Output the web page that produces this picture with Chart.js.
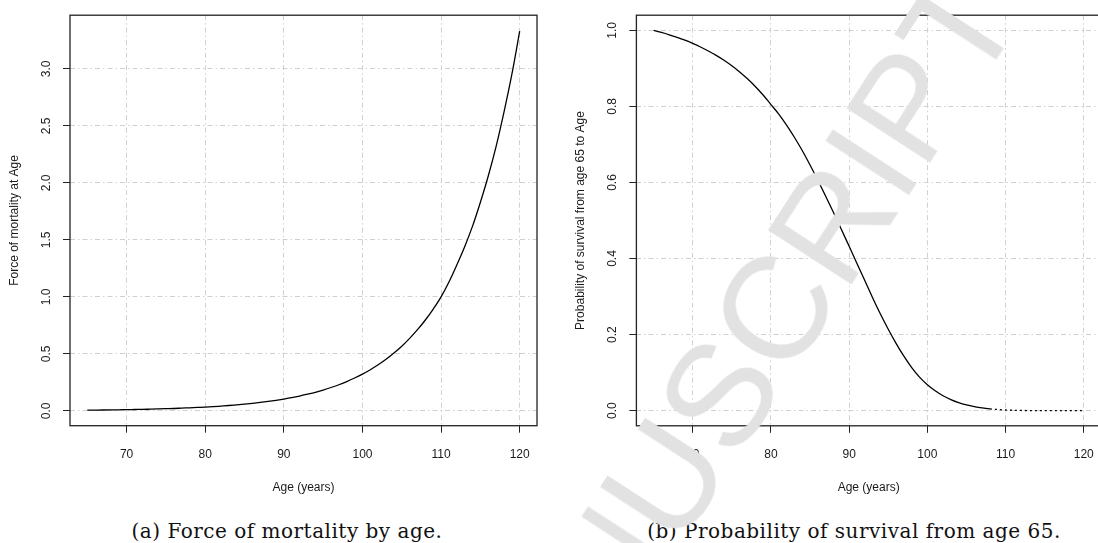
<!DOCTYPE html>
<html>
<head>
<meta charset="utf-8">
<script src="https://cdn.jsdelivr.net/npm/chart.js@4.4.1/dist/chart.umd.min.js"></script>
<style>
  html, body { margin:0; padding:0; background:#fff; }
  body { width:1098px; height:543px; overflow:hidden; position:relative; }
  canvas { position:absolute; top:0; }
  #c1 { left:0; }
  #c2 { left:549px; }
  .cap { position:absolute; top:519px; font-family:"DejaVu Serif", serif; font-size:20px; letter-spacing:0.5px; color:#111; white-space:nowrap; transform:translateX(-50%); line-height:24px; }
  #wm { position:absolute; left:722px; top:392px; font-family:"Liberation Sans", Arial, sans-serif; font-size:145px; line-height:1; color:#e2e2e2; white-space:nowrap; transform:translate(-50%,-50%) rotate(-57deg); }
</style>
</head>
<body>
<canvas id="c1" width="549" height="505"></canvas>
<canvas id="c2" width="560" height="505"></canvas>
<div class="cap" style="left:287px">(a) Force of mortality by age.</div>
<div class="cap" style="left:854px">(b) Probability of survival from age 65.</div>
<div id="wm">MANUSCRIPT</div>
<script>
// ---- data ----
const ages = [65,66,67,68,69,70,71,72,73,74,75,76,77,78,79,80,81,82,83,84,85,86,87,88,89,90,91,92,93,94,95,96,97,98,99,100,101,102,103,104,105,106,107,108,109,110,111,112,113,114,115,116,117,118,119,120];
const forceOfMortality = [0.006,0.0068,0.0076,0.0085,0.0095,0.011,0.012,0.013,0.015,0.017,0.019,0.021,0.024,0.027,0.030,0.033,0.037,0.042,0.047,0.053,0.059,0.066,0.074,0.083,0.093,0.104,0.116,0.130,0.146,0.163,0.183,0.205,0.229,0.257,0.288,0.322,0.361,0.404,0.452,0.507,0.567,0.636,0.712,0.797,0.893,1.00,1.13,1.28,1.44,1.62,1.83,2.06,2.32,2.62,2.95,3.33];
const survivalProb = [1.000,0.9946,0.9885,0.9817,0.9742,0.9658,0.9564,0.9459,0.9343,0.9213,0.9068,0.8906,0.8726,0.8525,0.8301,0.805,0.780,0.751,0.719,0.684,0.646,0.606,0.564,0.521,0.477,0.432,0.387,0.342,0.297,0.254,0.214,0.177,0.143,0.113,0.088,0.068,0.052,0.039,0.029,0.021,0.015,0.0105,0.007,0.0045,0.0028,0.0016,0.0008,0.0003,0.0001,0,0,0,0,0,0,0];
const xTicksStep = 10;
const yTicksStepA = 0.5;
const yTicksStepB = 0.2;

const FONT = '"Liberation Sans", Arial, sans-serif';
const boxPlugin = {
  id: 'box',
  afterDraw(chart) {
    const a = chart.chartArea, ctx = chart.ctx;
    ctx.save();
    ctx.strokeStyle = '#222';
    ctx.lineWidth = 1.3;
    ctx.strokeRect(a.left, a.top, a.right - a.left, a.bottom - a.top);
    ctx.restore();
  }
};

function makeChart(id, values, cfg) {
  const pts = ages.map((a, i) => ({x: a, y: values[i]}));
  return new Chart(document.getElementById(id), {
    type: 'line',
    data: { datasets: [{
      data: pts,
      borderColor: '#000',
      borderWidth: 1.3,
      pointRadius: 0,
      fill: false,
      cubicInterpolationMode: 'monotone',
      segment: cfg.segment || {}
    }]},
    options: {
      responsive: false,
      devicePixelRatio: 1,
      animation: false,
      events: [],
      layout: { padding: cfg.padding },
      plugins: { legend: {display:false}, tooltip: {enabled:false}, title: {display:false} },
      scales: {
        x: {
          type: 'linear', min: 62.8, max: 122.2,
          afterFit: s => { s.height = cfg.xHeight; },
          ticks: { stepSize: xTicksStep, includeBounds: false, padding: 15, color: '#1a1a1a', font: {family: FONT, size: 12}, maxRotation: 0, callback: v => String(v) },
          grid: { color: '#d0d0d0', lineWidth: 1, tickLength: 7, tickColor: '#222', tickWidth: 1, tickBorderDash: [] },
          border: { display: false, dash: [5,3,1.5,3] },
          title: { display: true, text: 'Age (years)', color: '#1a1a1a', font: {family: FONT, size: 12}, padding: {top:0, bottom:10} }
        },
        y: {
          type: 'linear', min: cfg.yMin, max: cfg.yMax,
          afterFit: s => { s.width = cfg.yWidth; },
          ticks: { stepSize: cfg.yStep, includeBounds: false, padding: 8, minRotation: 90, maxRotation: 90, crossAlign: 'center', color: '#1a1a1a', font: {family: FONT, size: 12}, callback: v => Number(v).toFixed(1) },
          grid: { color: '#d0d0d0', lineWidth: 1, tickLength: 7, tickColor: '#222', tickWidth: 1, tickBorderDash: [] },
          border: { display: false, dash: [5,3,1.5,3] },
          title: { display: true, text: cfg.yTitle, color: '#1a1a1a', font: {family: FONT, size: 12}, padding: {top: cfg.yTitlePad, bottom: 0} }
        }
      }
    },
    plugins: [boxPlugin]
  });
}

makeChart('c1', forceOfMortality, {
  padding: {left:0, right:12, top:7, bottom:0},
  xHeight: 79.3, yWidth: 70,
  yMin: -0.13, yMax: 3.47, yStep: yTicksStepA,
  yTitle: 'Force of mortality at Age', yTitlePad: 7
});
makeChart('c2', survivalProb, {
  padding: {left:0, right:5.7, top:7.5, bottom:0},
  xHeight: 79.2, yWidth: 87.4,
  yMin: -0.04, yMax: 1.04, yStep: yTicksStepB,
  yTitle: 'Probability of survival from age 65 to Age', yTitlePad: 24,
  segment: { borderDash: c => c.p0.parsed.x >= 108 ? [2,3] : undefined }
});
</script>
</body>
</html>
